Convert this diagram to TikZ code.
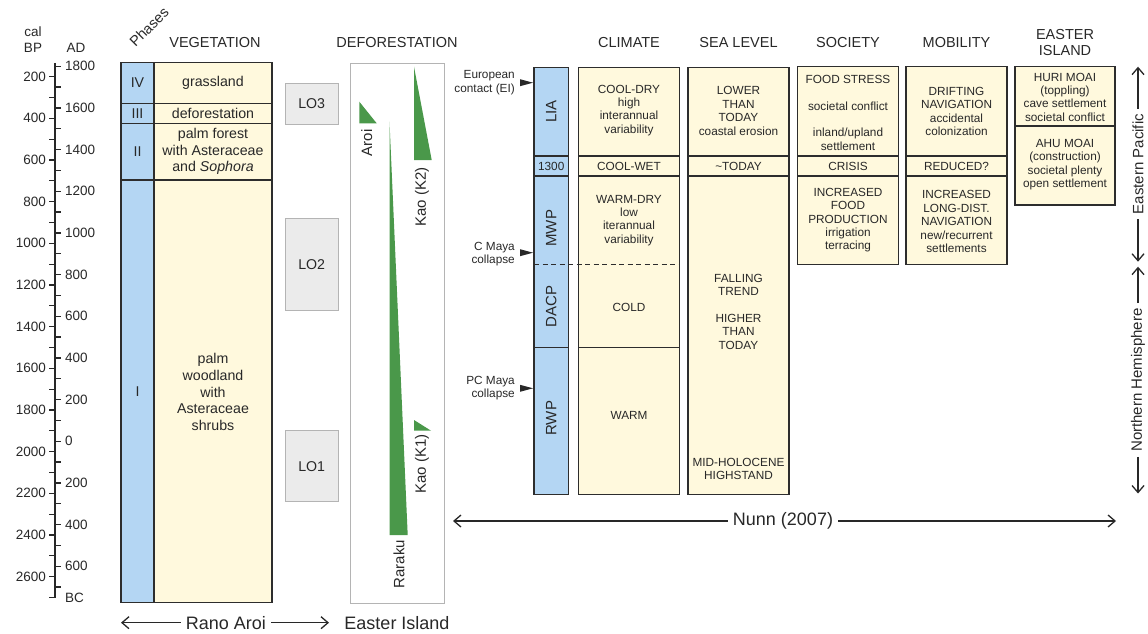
\documentclass[tikz,border=0pt]{standalone}
\usepackage{fontspec}
\setmainfont{Liberation Sans}
\usetikzlibrary{arrows.meta}

\definecolor{phaseblue}{RGB}{180,214,243}
\definecolor{cream}{RGB}{255,249,221}
\definecolor{ink}{RGB}{40,40,40}
\definecolor{edge}{RGB}{45,45,45}
\definecolor{logray}{RGB}{235,235,235}
\definecolor{loedge}{RGB}{180,180,180}
\definecolor{treegreen}{RGB}{74,152,74}

\tikzset{
  cell/.style={draw=edge, line width=1.5pt},
  bluecell/.style={cell, fill=phaseblue},
  creamcell/.style={cell, fill=cream},
  hdr/.style={font=\fontsize{14.5}{16}\selectfont, text=ink, inner sep=0pt, align=center},
  txt/.style={font=\fontsize{11.8}{13.4}\selectfont, text=ink, inner sep=0pt, align=center},
  vegtxt/.style={font=\fontsize{14.2}{16.7}\selectfont, text=ink, inner sep=0pt, align=center},
  axlbl/.style={font=\fontsize{13.5}{16}\selectfont, text=ink, inner sep=0pt},
  sidetxt/.style={font=\fontsize{15}{17}\selectfont, text=ink, inner sep=0pt, rotate=90},
  evtxt/.style={font=\fontsize{11.8}{13.4}\selectfont, text=ink, inner sep=0pt, align=right, anchor=east},
  spanlbl/.style={font=\fontsize{18}{20}\selectfont, text=ink, fill=white, inner xsep=5pt, inner ysep=0pt},
  lobox/.style={draw=loedge, fill=logray, line width=0.9pt},
  tip/.style={draw=ink, line width=1.3pt, -{Straight Barb[length=7pt,width=12pt]}},
  axisline/.style={draw=ink, line width=1.3pt}
}

\begin{document}
\begin{tikzpicture}[x=1pt, y=-1pt]
  \useasboundingbox (0,0) rectangle (1148,634);

  % Draw the time axis
  \draw[axisline] (55,63) -- (55,598);
  \foreach \b in {200,300,...,2700}
    \draw[axisline] (49,{35+\b/4.8}) -- (55,{35+\b/4.8});
  \foreach \b in {150,250,...,2650}
    \draw[axisline] (55,{35+\b/4.8}) -- (61,{35+\b/4.8});
  \foreach \b in {200,400,...,2600}
    \node[axlbl, anchor=east] (bp\b) at (46,{35+\b/4.8}) {\b};
  \foreach \b/\t [count=\i] in {150/1800,350/1600,550/1400,750/1200,950/1000,1150/800,1350/600,
      1550/400,1750/200,1950/0,2150/200,2350/400,2550/600,2700/BC}
    \node[axlbl, anchor=west] (ad\i) at (65,{35+\b/4.8}) {\t};
  \node[axlbl, align=center] (calbp) at (33,40) {cal\\BP};
  \node[axlbl] (adlbl) at (76,48) {AD};

  % Column headers
  \node[hdr, rotate=45] (phases) at (149,27) {Phases};
  \node[hdr] (hveg) at (215,43) {VEGETATION};
  \node[hdr] (hdef) at (397,43) {DEFORESTATION};
  \node[hdr] (hclim) at (629,43) {CLIMATE};
  \node[hdr] (hsea) at (738.5,43) {SEA LEVEL};
  \node[hdr] (hsoc) at (848,43) {SOCIETY};
  \node[hdr] (hmob) at (956.5,43) {MOBILITY};
  \node[hdr] (heast) at (1065,43) {EASTER\\ISLAND};

  % Phases and vegetation (Rano Aroi)
  \filldraw[bluecell] (121,62.7) rectangle (154,103.3);
  \filldraw[bluecell] (121,103.3) rectangle (154,123.3);
  \filldraw[bluecell] (121,123.3) rectangle (154,180);
  \filldraw[bluecell] (121,180) rectangle (154,602.7);
  \filldraw[creamcell] (154,62.7) rectangle (272,103.3);
  \filldraw[creamcell] (154,103.3) rectangle (272,123.3);
  \filldraw[creamcell] (154,123.3) rectangle (272,180);
  \filldraw[creamcell] (154,180) rectangle (272,602.7);
  \node[vegtxt] (ph4) at (137.5,83) {IV};
  \node[vegtxt] (ph3) at (137.5,113.5) {III};
  \node[vegtxt] (ph2) at (137.5,151.5) {II};
  \node[vegtxt] (ph1) at (137.5,392) {I};
  \node[vegtxt] (veg4) at (213,83) {grassland};
  \node[vegtxt] (veg3) at (213,113.5) {deforestation};
  \node[vegtxt] (veg2) at (213,151.5) {palm forest\\with Asteraceae\\and \textit{Sophora}};
  \node[vegtxt] (veg1) at (213,392) {palm\\woodland\\with\\Asteraceae\\shrubs};

  % Land-use boxes and deforestation wedges
  \draw[lobox] (285,83.3) rectangle (338.3,124);
  \draw[lobox] (285,218.3) rectangle (338.3,310.7);
  \draw[lobox] (285,430.7) rectangle (338.3,501.7);
  \node[vegtxt] (lo3) at (311.7,103.7) {LO3};
  \node[vegtxt] (lo2) at (311.7,264.5) {LO2};
  \node[vegtxt] (lo1) at (311.7,466.2) {LO1};
  \draw[draw=loedge, line width=1pt] (350,63.3) rectangle (444,603.3);
  \fill[treegreen] (359.3,101.7) -- (359.3,123.3) -- (376.7,123.3) -- cycle;
  \fill[treegreen] (389.5,121.7) -- (389.5,535) -- (407.7,535) -- cycle;
  \fill[treegreen] (414,66.7) -- (414,160) -- (431.7,160) -- cycle;
  \fill[treegreen] (414,420) -- (414,430.7) -- (431,430.7) -- cycle;
  \node[sidetxt] (aroi) at (366.7,143) {Aroi};
  \node[sidetxt] (raraku) at (399,564) {Raraku};
  \node[sidetxt] (kao2) at (422,197) {Kao (K2)};
  \node[sidetxt] (kao1) at (422,464) {Kao (K1)};

  % Climatic periods
  \filldraw[bluecell] (534,67.3) rectangle (568.3,494.3);
  \filldraw[creamcell] (578.5,67.3) rectangle (679.5,494.3);
  \filldraw[creamcell] (688,67.3) rectangle (789,494.3);
  \draw[cell] (534,156) -- (568.3,156) (534,176) -- (568.3,176) (534,347.3) -- (568.3,347.3);
  \draw[cell] (578.5,156) -- (679.5,156) (578.5,176) -- (679.5,176) (578.5,347.3) -- (679.5,347.3);
  \draw[cell] (688,156) -- (789,156) (688,176) -- (789,176);
  \draw[cell, dash pattern=on 5pt off 3.5pt] (534,264.5) -- (679.5,264.5);
  \node[sidetxt] (lia) at (551.2,111.7) {LIA};
  \node[txt] (y1300) at (551.2,166) {1300};
  \node[sidetxt] (mwp) at (551.2,228.3) {MWP};
  \node[sidetxt] (dacp) at (551.2,306.7) {DACP};
  \node[sidetxt] (rwp) at (551.2,418.3) {RWP};

  % Events
  \fill[ink] (533,82.7) -- (520,79.2) -- (520,86.2) -- cycle;
  \fill[ink] (533,252.7) -- (520,249.2) -- (520,256.2) -- cycle;
  \fill[ink] (533,388.3) -- (520,384.8) -- (520,391.8) -- cycle;
  \node[evtxt] (euro) at (515,82.7) {European\\contact (EI)};
  \node[evtxt] (cmaya) at (515,254) {C Maya\\collapse};
  \node[evtxt] (pcmaya) at (515,388.3) {PC Maya\\collapse};

  % Climate and sea level
  \node[txt] (c1) at (629,110.3) {COOL-DRY\\high\\interannual\\variability};
  \node[txt] (c2) at (629,166) {COOL-WET};
  \node[txt] (c3) at (629,220.3) {WARM-DRY\\low\\iterannual\\variability};
  \node[txt] (c4) at (629,307) {COLD};
  \node[txt] (c5) at (629,415) {WARM};
  \node[txt] (s1) at (738.5,111) {LOWER\\THAN\\TODAY\\coastal erosion};
  \node[txt] (s2) at (738.5,166) {\textasciitilde TODAY};
  \node[txt] (s3) at (738.5,311.7) {FALLING\\TREND\\[13.4pt]HIGHER\\THAN\\TODAY};
  \node[txt] (s4) at (738.5,469) {MID-HOLOCENE\\HIGHSTAND};

  % Society, mobility and Easter Island
  \filldraw[creamcell] (797.5,66.7) rectangle (898.5,264.3);
  \filldraw[creamcell] (906,66.7) rectangle (1007,264.3);
  \filldraw[creamcell] (1015,66.7) rectangle (1115,205);
  \draw[cell] (797.5,156) -- (898.5,156) (797.5,176) -- (898.5,176);
  \draw[cell] (906,156) -- (1007,156) (906,176) -- (1007,176);
  \draw[cell] (1015,126) -- (1115,126);
  \node[txt] (so1) at (848,112.8) {FOOD STRESS\\[13.4pt]societal conflict\\[13.4pt]inland/upland\\settlement};
  \node[txt] (so2) at (848,166) {CRISIS};
  \node[txt] (so3) at (848,220.3) {INCREASED\\FOOD\\PRODUCTION\\irrigation\\terracing};
  \node[txt] (mo1) at (956.5,111.3) {DRIFTING\\NAVIGATION\\accidental\\colonization};
  \node[txt] (mo2) at (956.5,166) {REDUCED?};
  \node[txt] (mo3) at (956.5,221.7) {INCREASED\\LONG-DIST.\\NAVIGATION\\new/recurrent\\settlements};
  \node[txt] (ei1) at (1065,97.2) {HURI MOAI\\(toppling)\\cave settlement\\societal conflict};
  \node[txt] (ei2) at (1065,164.7) {AHU MOAI\\(construction)\\societal plenty\\open settlement};

  % Regional spans
  \coordinate (epTop) at (1138,66.7);
  \coordinate (epBot) at (1138,261.7);
  \coordinate (nhTop) at (1138,266.7);
  \coordinate (nhBot) at (1138,493.5);
  \node[sidetxt, fill=white, inner xsep=5pt] (ep) at (1138,164) {Eastern Pacific};
  \node[sidetxt, fill=white, inner xsep=5pt] (nh) at (1138,380) {Northern Hemisphere};
  \draw[tip] (ep) -- (epTop);
  \draw[tip] (ep) -- (epBot);
  \draw[tip] (nh) -- (nhTop);
  \draw[tip] (nh) -- (nhBot);

  \coordinate (nunnL) at (453,521);
  \coordinate (nunnR) at (1116,521);
  \node[spanlbl] (nunn) at (783,521) {Nunn (2007)};
  \draw[tip] (nunn) -- (nunnL);
  \draw[tip] (nunn) -- (nunnR);

  \coordinate (raL) at (121,622.7);
  \coordinate (raR) at (329,622.7);
  \node[spanlbl] (rano) at (226,622.7) {Rano Aroi};
  \node[spanlbl, fill=none] (easter) at (397,622.7) {Easter Island};
  \draw[tip] (rano) -- (raL);
  \draw[tip] (rano) -- (raR);
\end{tikzpicture}
\end{document}
